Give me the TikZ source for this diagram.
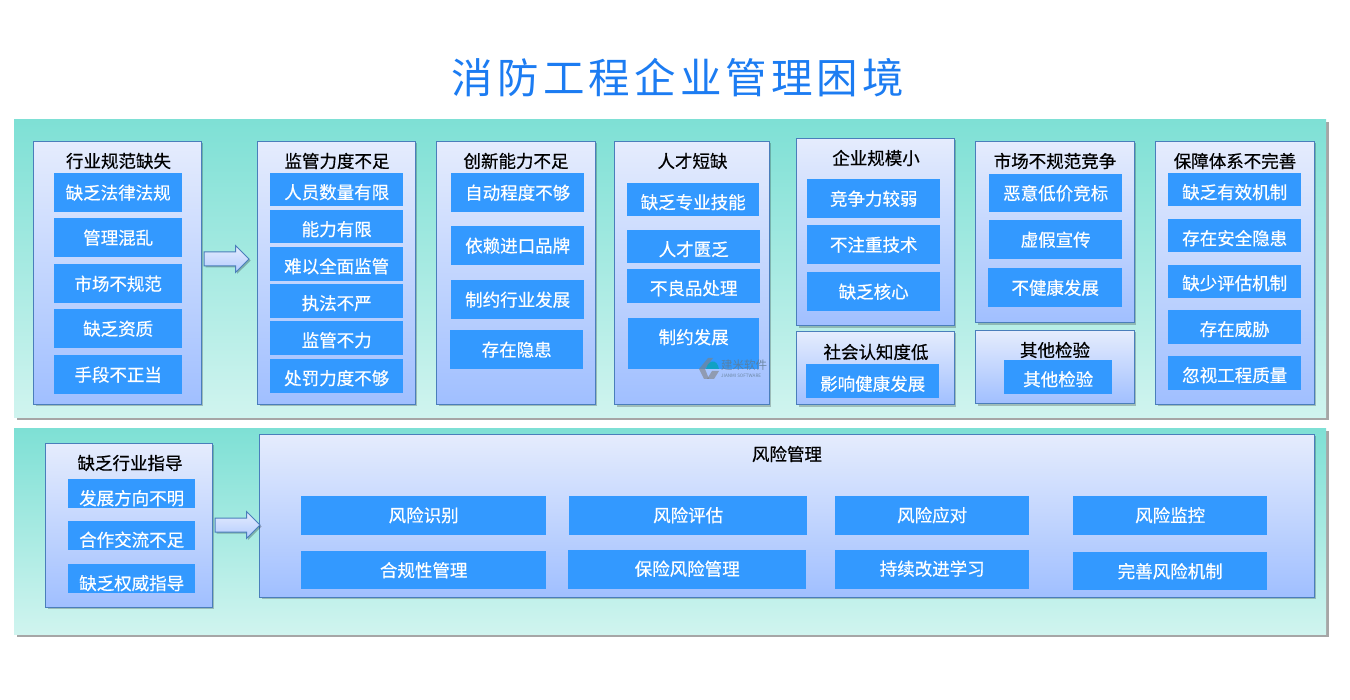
\documentclass[tikz,border=0pt]{standalone}
\usepackage{fontspec}
\setmainfont{Noto Sans CJK SC}[AutoFakeBold=0.5]
\newfontfamily\titlefont[LetterSpace=10]{Noto Sans CJK SC}
\usetikzlibrary{shadows,shapes.arrows}
\definecolor{itemblue}{HTML}{3399FF}
\definecolor{framblue}{HTML}{4A7EBB}
\definecolor{headblue}{HTML}{1C7CF2}
\definecolor{bandtop}{HTML}{7EE0D5}
\definecolor{bandend}{HTML}{D0F4EF}
\definecolor{paneltop}{HTML}{E5ECFD}
\definecolor{panelend}{HTML}{A0BFFF}
\definecolor{markgray}{HTML}{5F7A90}
\newcommand{\lowered}[2]{\raisebox{-#1pt}[\height][\depth]{#2}}
\tikzset{
    bandbox/.style={anchor=north west,inner sep=0,top color=bandtop,bottom color=bandend,
        drop shadow={shadow xshift=3pt,shadow yshift=-3pt,fill=black,opacity=.35}},
    panelbox/.style={anchor=north west,inner sep=0,draw=framblue,line width=1pt,
        top color=paneltop,bottom color=panelend,
        drop shadow={shadow xshift=2pt,shadow yshift=-2pt,fill=black,opacity=.22}},
    itembox/.style={anchor=north west,inner sep=0,fill=itemblue,text=white,font=\fontsize{17.5}{20}\selectfont\bfseries},
    headtext/.style={inner sep=0,text=black,font=\fontsize{17.5}{20}\selectfont\bfseries},
    blockarrow/.style={single arrow,inner xsep=0,inner ysep=6.5,minimum height=45,
        single arrow head extend=6.5,draw=framblue,line width=1pt,
        top color=paneltop,bottom color=panelend!80!white,
        drop shadow={shadow xshift=1.5pt,shadow yshift=-1.5pt,fill=black,opacity=.25}},
}
\begin{document}
\begin{tikzpicture}[x=1pt,y=-1pt]
    \useasboundingbox (0,0) rectangle (1350,700);
    \draw (678,78) node[text=headblue,inner sep=0,font=\titlefont\fontsize{41.5}{48}\selectfont] (title) {消防工程企业管理困境};
    % the two bands
    \draw (14,119) node[bandbox,minimum width=1312,minimum height=298] (bandA) {};
    \draw (14,428) node[bandbox,minimum width=1312,minimum height=206] (bandB) {};
    % panels
    \draw (33,141) node[panelbox,minimum width=167.5,minimum height=263] (regul) {};
    \draw (257,141) node[panelbox,minimum width=157.5,minimum height=263] (super) {};
    \draw (436,141) node[panelbox,minimum width=158.5,minimum height=263] (innov) {};
    \draw (614,141) node[panelbox,minimum width=154.5,minimum height=263.5] (talent) {};
    \draw (796,138) node[panelbox,minimum width=157.5,minimum height=187.5] (scale) {};
    \draw (796,331) node[panelbox,minimum width=157.5,minimum height=73.5] (social) {};
    \draw (975,141) node[panelbox,minimum width=158.5,minimum height=181.5] (market) {};
    \draw (975,330) node[panelbox,minimum width=158.5,minimum height=73.5] (other) {};
    \draw (1155,141) node[panelbox,minimum width=158.5,minimum height=263] (guard) {};
    \draw (45,443) node[panelbox,minimum width=166.5,minimum height=163.5] (guide) {};
    \draw (259,434) node[panelbox,minimum width=1054.5,minimum height=162.5] (risk) {};
    % panel heads
    \draw (118.5,161) node[headtext] (regulH) {行业规范缺失};
    \draw (337,161) node[headtext] (superH) {监管力度不足};
    \draw (516,161) node[headtext] (innovH) {创新能力不足};
    \draw (692.5,161) node[headtext] (talentH) {人才短缺};
    \draw (876,158) node[headtext] (scaleH) {企业规模小};
    \draw (876,352) node[headtext] (socialH) {社会认知度低};
    \draw (1055,161) node[headtext] (marketH) {市场不规范竞争};
    \draw (1235,161) node[headtext] (guardH) {保障体系不完善};
    \draw (1055,350) node[headtext] (otherH) {其他检验};
    \draw (130,463) node[headtext] (guideH) {缺乏行业指导};
    \draw (787,454) node[headtext] (riskH) {风险管理};
    % items
    \draw (54,173) node[itembox,minimum width=128,minimum height=39] (regulA) {缺乏法律法规};
    \draw (54,218) node[itembox,minimum width=128,minimum height=39] (regulB) {管理混乱};
    \draw (54,264) node[itembox,minimum width=128,minimum height=39] (regulC) {市场不规范};
    \draw (54,309) node[itembox,minimum width=128,minimum height=39] (regulD) {缺乏资质};
    \draw (54,355) node[itembox,minimum width=128,minimum height=39] (regulE) {手段不正当};
    \draw (270,173) node[itembox,minimum width=133,minimum height=33] (superA) {\lowered{2.5}{人员数量有限}};
    \draw (270,210) node[itembox,minimum width=133,minimum height=33] (superB) {\lowered{2.5}{能力有限}};
    \draw (270,247) node[itembox,minimum width=133,minimum height=34] (superC) {\lowered{2}{难以全面监管}};
    \draw (270,284) node[itembox,minimum width=133,minimum height=34] (superD) {\lowered{2}{执法不严}};
    \draw (270,321) node[itembox,minimum width=133,minimum height=34] (superE) {\lowered{2}{监管不力}};
    \draw (270,359) node[itembox,minimum width=133,minimum height=34] (superF) {\lowered{2}{处罚力度不够}};
    \draw (451,173) node[itembox,minimum width=133,minimum height=39] (innovA) {自动程度不够};
    \draw (451,226) node[itembox,minimum width=133,minimum height=39] (innovB) {依赖进口品牌};
    \draw (451,280) node[itembox,minimum width=133,minimum height=39] (innovC) {制约行业发展};
    \draw (450,330) node[itembox,minimum width=133,minimum height=39] (innovD) {存在隐患};
    \draw (627,183) node[itembox,minimum width=132,minimum height=33] (talentA) {\lowered{2.5}{缺乏专业技能}};
    \draw (627,230) node[itembox,minimum width=133,minimum height=33] (talentB) {\lowered{2.5}{人才匮乏}};
    \draw (627,269) node[itembox,minimum width=133,minimum height=34] (talentC) {\lowered{2}{不良品处理}};
    \draw (628,318) node[itembox,minimum width=131,minimum height=51] (talentD) {\lowered{-6.5}{制约发展}};
    \draw (807,179) node[itembox,minimum width=133,minimum height=39] (scaleA) {竞争力较弱};
    \draw (807,225) node[itembox,minimum width=133,minimum height=39] (scaleB) {不注重技术};
    \draw (807,272) node[itembox,minimum width=133,minimum height=39] (scaleC) {缺乏核心};
    \draw (806,364) node[itembox,minimum width=133,minimum height=34] (socialA) {\lowered{2.5}{影响健康发展}};
    \draw (989,174) node[itembox,minimum width=133,minimum height=38] (marketA) {恶意低价竞标};
    \draw (989,220) node[itembox,minimum width=133,minimum height=39] (marketB) {虚假宣传};
    \draw (988,268) node[itembox,minimum width=134,minimum height=39] (marketC) {不健康发展};
    \draw (1004,360) node[itembox,minimum width=108,minimum height=34] (otherA) {\lowered{2}{其他检验}};
    \draw (1168,173) node[itembox,minimum width=133,minimum height=33] (guardA) {\lowered{2.5}{缺乏有效机制}};
    \draw (1168,219) node[itembox,minimum width=133,minimum height=33] (guardB) {\lowered{2.5}{存在安全隐患}};
    \draw (1168,265) node[itembox,minimum width=133,minimum height=33] (guardC) {\lowered{1.5}{缺少评估机制}};
    \draw (1168,310) node[itembox,minimum width=133,minimum height=34] (guardD) {\lowered{2}{存在威胁}};
    \draw (1168,356) node[itembox,minimum width=133,minimum height=34] (guardE) {\lowered{2}{忽视工程质量}};
    \draw (68,479) node[itembox,minimum width=127,minimum height=29] (guideA) {\lowered{4.5}{发展方向不明}};
    \draw (68,521) node[itembox,minimum width=127,minimum height=29] (guideB) {\lowered{4}{合作交流不足}};
    \draw (68,564) node[itembox,minimum width=127,minimum height=29] (guideC) {\lowered{4.5}{缺乏权威指导}};
    \draw (301,496) node[itembox,minimum width=245,minimum height=39] (riskA) {\lowered{-0.5}{风险识别}};
    \draw (569,496) node[itembox,minimum width=238,minimum height=39] (riskB) {\lowered{-0.5}{风险评估}};
    \draw (835,496) node[itembox,minimum width=194,minimum height=39] (riskC) {\lowered{-0.5}{风险应对}};
    \draw (1073,496) node[itembox,minimum width=194,minimum height=39] (riskD) {\lowered{-0.5}{风险监控}};
    \draw (301,551) node[itembox,minimum width=245,minimum height=38] (riskE) {合规性管理};
    \draw (568,550) node[itembox,minimum width=238,minimum height=39] (riskF) {\lowered{-1}{保险风险管理}};
    \draw (835,550) node[itembox,minimum width=194,minimum height=39] (riskG) {\lowered{-1}{持续改进学习}};
    \draw (1073,552) node[itembox,minimum width=194,minimum height=38] (riskH) {完善风险机制};
    % block arrows
    \draw (223,259) node[blockarrow] (arrowA) {};
    \draw (234,525) node[blockarrow] (arrowB) {};
    % watermark
    \fill[gray,opacity=.6] (699,369) -- (708,358) -- (713,358) -- (705,369) -- (709,379) -- (704,379) -- cycle;
    \fill[teal!70!cyan,opacity=.65] (706,369) .. controls (708,360) and (717,358) .. (719,369) -- cycle;
    \fill[gray,opacity=.6] (707,379) -- (712,371) -- (719,371) -- (714,379) -- cycle;
    \draw (721,365) node[anchor=west,inner sep=0,text=markgray,opacity=.8,font=\fontsize{11.5}{13}\selectfont] (markA) {建米软件};
    \draw (721,375.5) node[anchor=west,inner sep=0,text=markgray,opacity=.8,font=\fontsize{4.6}{5}\selectfont] (markB) {JIANMI SOFTWARE};
\end{tikzpicture}
\end{document}
